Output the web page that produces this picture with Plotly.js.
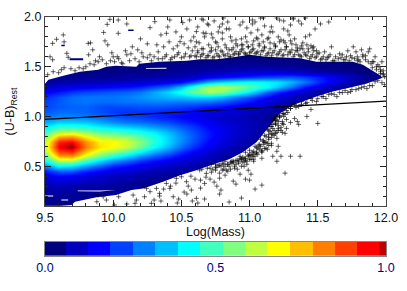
<!DOCTYPE html>
<html><head><meta charset="utf-8">
<script src="https://cdn.plot.ly/plotly-3.0.0.min.js"></script>
<style>html,body{margin:0;padding:0;background:#fff}#c{width:407px;height:291px}</style></head>
<body><div id="c"></div>
<script>
const massGrid=[9.5,9.6,9.7,9.8,9.9,10,10.1,10.2,10.3,10.4,10.5,10.6,10.7,10.8,10.9,11,11.1,11.2,11.3,11.4,11.5,11.6,11.7,11.8,11.9,12];
const colourGrid=[0.1,0.2,0.3,0.4,0.45,0.5,0.55,0.6,0.65,0.7,0.75,0.8,0.85,0.9,0.95,1.0,1.05,1.1,1.15,1.2,1.25,1.3,1.35,1.4,1.45,1.5,1.6];
const density=[
[.01,.01,.01,.01,.01,.01,.01,.01,0,0,0,0,0,0,0,0,0,0,0,0,0,0,0,0,0,0],
[.03,.03,.03,.02,.02,.02,.01,.01,0,0,0,0,0,0,0,0,0,0,0,0,0,0,0,0,0,0],
[.06,.07,.06,.05,.05,.04,.03,.02,.01,.01,0,0,0,0,0,0,0,0,0,0,0,0,0,0,0,0],
[.12,.16,.15,.12,.10,.08,.07,.05,.04,.03,.02,.01,0,0,0,0,0,0,0,0,0,0,0,0,0,0],
[.19,.26,.25,.20,.16,.13,.11,.09,.07,.06,.04,.03,.02,.01,0,0,0,0,0,0,0,0,0,0,0,0],
[.30,.42,.40,.32,.26,.20,.17,.14,.11,.09,.07,.05,.03,.02,.01,0,0,0,0,0,0,0,0,0,0,0],
[.42,.60,.60,.48,.38,.31,.26,.21,.17,.14,.11,.08,.06,.04,.02,.01,0,0,0,0,0,0,0,0,0,0],
[.52,.78,.80,.65,.54,.46,.39,.32,.26,.21,.16,.12,.08,.05,.03,.02,.01,0,0,0,0,0,0,0,0,0],
[.60,.90,.93,.76,.65,.60,.53,.44,.35,.29,.22,.16,.11,.07,.05,.03,.01,0,0,0,0,0,0,0,0,0],
[.63,.96,1.0,.82,.71,.68,.63,.54,.43,.35,.27,.20,.14,.10,.06,.04,.02,0,0,0,0,0,0,0,0,0],
[.62,.92,.95,.80,.70,.69,.64,.57,.46,.38,.30,.23,.16,.12,.08,.05,.02,.01,0,0,0,0,0,0,0,0],
[.55,.78,.80,.70,.62,.60,.58,.52,.45,.38,.31,.24,.18,.13,.09,.06,.03,.01,0,0,0,0,0,0,0,0],
[.47,.60,.62,.57,.52,.50,.47,.44,.40,.35,.29,.23,.18,.14,.10,.07,.04,.02,.01,0,0,0,0,0,0,0],
[.40,.47,.47,.45,.41,.39,.37,.35,.32,.29,.25,.21,.16,.13,.10,.07,.05,.03,.01,0,0,0,0,0,0,0],
[.33,.37,.37,.36,.33,.30,.28,.27,.25,.23,.20,.17,.14,.11,.09,.07,.05,.03,.01,0,0,0,0,0,0,0],
[.28,.30,.30,.29,.27,.25,.23,.22,.20,.18,.16,.14,.11,.09,.08,.06,.04,.02,.01,0,0,0,0,0,0,0],
[.25,.27,.27,.26,.24,.22,.21,.21,.20,.19,.18,.16,.14,.12,.10,.08,.06,.03,.02,.01,0,0,0,0,0,0],
[.23,.25,.26,.26,.24,.23,.23,.24,.24,.23,.22,.20,.18,.16,.13,.11,.08,.05,.03,.02,.01,0,0,0,0,0],
[.22,.25,.27,.28,.27,.27,.28,.28,.29,.29,.28,.28,.27,.25,.21,.17,.13,.09,.05,.03,.02,.01,0,0,0,0],
[.20,.24,.27,.28,.28,.28,.29,.31,.33,.35,.36,.38,.38,.35,.29,.24,.18,.12,.08,.05,.03,.01,.01,0,0,0],
[.15,.18,.21,.23,.24,.25,.26,.28,.33,.38,.45,.54,.60,.57,.49,.40,.30,.21,.14,.09,.05,.03,.02,.01,0,0],
[.09,.11,.13,.14,.15,.16,.17,.19,.23,.27,.35,.49,.60,.62,.58,.52,.45,.37,.28,.19,.12,.07,.03,.02,.01,0],
[.04,.05,.06,.07,.07,.08,.09,.10,.11,.13,.16,.24,.34,.38,.41,.43,.42,.40,.35,.29,.21,.15,.09,.04,.01,0],
[.01,.02,.02,.03,.03,.03,.04,.04,.05,.06,.07,.09,.13,.16,.18,.20,.22,.23,.24,.22,.19,.15,.10,.05,.02,.01],
[0,0,.01,.01,.01,.01,.02,.02,.02,.03,.04,.05,.07,.08,.09,.10,.11,.11,.10,.08,.06,.04,.03,.01,0,0],
[0,0,0,0,0,0,.01,.01,.01,.01,.02,.02,.03,.03,.04,.04,.04,.03,.03,.02,.01,.01,0,0,0,0],
[0,0,0,0,0,0,0,0,0,0,0,0,0,0,0,0,0,0,0,0,0,0,0,0,0,0]
];
const topEdgeX=[9.5,9.525,9.634,9.756,9.89,9.95,10.02,10.17,10.19,10.34,10.54,10.635,10.757,10.879,11.0,11.12,11.37,11.49,11.757,11.83,11.95,11.976,12,12,9.5];
const topEdgeY=[1.33,1.37,1.41,1.45,1.47,1.5,1.51,1.5,1.53,1.55,1.56,1.575,1.575,1.595,1.62,1.6,1.585,1.55,1.55,1.52,1.42,1.39,1.39,2,2];
const bottomEdgeX=[9.61,9.695,9.72,9.878,10.02,10.134,10.22,10.366,10.49,10.61,10.757,10.85,10.95,11.05,11.12,11.17,11.22,11.32,11.37,11.49,11.61,11.73,11.855,11.976,12,12];
const bottomEdgeY=[.1,.11,.143,.187,.21,.26,.277,.344,.41,.46,.53,.57,.64,.74,.86,.94,1.03,1.115,1.14,1.2,1.25,1.29,1.33,1.39,1.39,.1];
const gapX=[10.24,10.39,10.39,10.24,null,9.74,9.9,10.02,9.9,9.74,null,9.5,9.56,9.56,9.5,null,9.62,9.67,9.67,9.62];
const gapY=[1.487,1.49,1.48,1.48,null,.255,.257,.258,.247,.248,null,.205,.205,.195,.195,null,.165,.165,.155,.155];
const islandX=[9.62,9.645,9.645,9.62,null,9.68,9.78,9.78,9.68,null,10.11,10.15,10.15,10.11];
const islandY=[1.72,1.72,1.705,1.705,null,1.585,1.585,1.565,1.565,null,1.875,1.875,1.86,1.86];
const upperLeftX=[9.556,9.585,9.634,9.64,9.537,9.556,9.66,9.67,9.817,9.834,9.85,9.94,9.96,9.93,9.956,9.976,10.037,10.1,10.037,9.52,9.56,9.60,9.62,9.64,9.69,9.72,9.75,9.78,9.80,9.83,9.86,9.89,9.92,9.95,9.98,10.01,10.04,10.07,10.1,10.13,10.16,10.19,10.22,10.25,10.28,9.99,10.03,10.09,10.14,10.18,10.21,10.25,10.2,10.27,10.12,10.06,10.0,9.9,9.87,9.82];
const upperLeftY=[1.735,1.776,1.82,1.75,1.60,1.57,1.635,1.595,1.735,1.74,1.67,1.76,1.72,1.845,1.926,1.976,1.97,1.93,1.836,1.42,1.45,1.44,1.47,1.49,1.48,1.46,1.49,1.48,1.5,1.53,1.52,1.55,1.57,1.53,1.56,1.55,1.58,1.53,1.62,1.63,1.58,1.55,1.6,1.59,1.56,1.64,1.6,1.66,1.7,1.67,1.64,1.73,1.78,1.62,1.56,1.54,1.6,1.6,1.56,1.62];
const upperMidX=[10.27,10.305,10.39,10.415,10.51,10.49,10.61,10.66,10.68,10.3,10.33,10.36,10.39,10.42,10.45,10.48,10.5,10.53,10.56,10.58,10.6,10.62,10.64,10.66,10.68,10.7,10.72,10.74,10.76,10.78,10.8,10.82,10.84,10.86,10.32,10.37,10.41,10.44,10.47,10.52,10.55,10.57,10.6,10.63,10.65,10.67,10.7,10.72,10.75,10.77,10.8,10.82,10.85,10.87,10.35,10.4,10.46,10.5,10.54,10.59,10.62,10.66,10.69,10.73,10.77,10.8,10.83,10.86,10.56,10.61,10.65,10.7,10.74,10.78,10.81,10.84,10.72,10.76,10.8,10.85,10.88,10.9,10.92,10.94];
const upperMidY=[1.893,1.953,1.836,1.97,1.943,1.752,1.853,1.97,1.836,1.6,1.65,1.58,1.62,1.57,1.6,1.64,1.59,1.63,1.6,1.66,1.61,1.64,1.6,1.63,1.59,1.61,1.66,1.6,1.63,1.6,1.65,1.61,1.63,1.6,1.72,1.7,1.75,1.68,1.71,1.73,1.69,1.76,1.7,1.74,1.68,1.8,1.72,1.69,1.75,1.7,1.78,1.72,1.67,1.76,1.82,1.9,1.85,1.8,1.88,1.8,1.9,1.84,1.93,1.79,1.85,1.93,1.88,1.8,1.97,1.75,1.98,1.92,1.96,1.9,1.99,1.95,1.83,1.74,1.84,1.88,1.69,1.77,1.62,1.72];
const upperRightX=[10.88,10.9,10.92,10.94,10.96,10.98,11.0,11.02,11.04,11.06,11.08,11.1,11.12,11.14,11.16,11.18,11.2,11.22,11.24,11.26,11.28,11.3,11.32,11.34,11.36,11.38,11.4,11.42,11.44,11.46,11.48,11.5,11.52,11.54,11.56,10.95,10.99,11.03,11.07,11.11,11.15,11.19,11.23,11.27,11.31,11.35,11.39,11.43,11.47,10.97,11.01,11.05,11.09,11.13,11.17,11.21,11.25,11.29,11.33,11.37,11.41,11.45,11.49,10.93,10.98,11.04,11.1,11.16,11.22,11.28,11.32,11.38,11.44,11.52,11.6,11.68,11.72,11.76,11.8,11.85,11.88,11.9,11.92,11.95,11.97,11.98,11.99,11.96,11.93,11.87,11.83,11.79,11.74,11.7,11.66,11.62,11.58,11.94,11.97,11.99,11.98,11.96,10.95,11.02,11.06,11.11,11.15,11.25,11.3,11.36,11.48,11.58,11.78,11.82,11.87,11.02,11.08,11.2,11.25,11.32,11.41];
const upperRightY=[1.62,1.65,1.63,1.67,1.64,1.62,1.64,1.67,1.63,1.65,1.62,1.66,1.61,1.64,1.61,1.66,1.62,1.65,1.61,1.67,1.62,1.64,1.6,1.66,1.62,1.6,1.64,1.61,1.58,1.62,1.59,1.63,1.57,1.6,1.57,1.72,1.7,1.76,1.73,1.7,1.74,1.71,1.77,1.7,1.73,1.69,1.74,1.68,1.7,1.8,1.84,1.79,1.82,1.78,1.85,1.8,1.76,1.82,1.78,1.68,1.8,1.71,1.66,1.92,1.89,1.95,1.99,1.9,1.97,1.86,1.98,1.93,1.82,1.93,1.7,1.62,1.66,1.7,1.57,1.61,1.68,1.55,1.6,1.5,1.55,1.46,1.4,1.43,1.5,1.55,1.6,1.56,1.61,1.57,1.63,1.56,1.6,1.36,1.34,1.32,1.43,1.47,1.95,1.93,1.87,1.91,1.85,1.88,1.92,1.96,1.88,1.95,1.65,1.67,1.65,1.97,1.99,1.99,1.96,1.99,1.99];
const upperBandX=[10.33,10.38,10.43,10.47,10.52,10.57,10.61,10.65,10.69,10.73,10.77,10.81,10.85,10.89,10.93,10.97,11.01,11.05,11.09,11.13,11.17,11.21,11.25,11.29,11.33,11.37,11.41,11.45,11.49,11.53,11.57,11.61,11.65,11.69,11.73,11.77,11.81,11.85,11.89,10.62,10.66,10.71,10.75,10.79,10.83,10.87,10.91,10.95,10.99,11.03,11.07,11.11,11.15,11.19,11.23,11.27,11.31,11.35,11.39,11.43,11.47,11.51,11.55,11.59,11.63,11.67,11.71,11.75,11.79,11.83,11.9,11.93,11.96,11.98,11.94,11.91,10.9,10.94,10.98,11.02,11.06,11.1,11.14,11.18,11.22,11.26,11.3,11.34,11.38,11.42,11.46];
const upperBandY=[1.58,1.6,1.59,1.62,1.6,1.61,1.6,1.62,1.61,1.59,1.61,1.62,1.6,1.63,1.65,1.63,1.65,1.64,1.66,1.63,1.64,1.63,1.62,1.65,1.62,1.61,1.62,1.6,1.6,1.58,1.59,1.56,1.58,1.57,1.56,1.58,1.55,1.57,1.53,1.66,1.68,1.65,1.67,1.66,1.69,1.67,1.71,1.68,1.7,1.68,1.71,1.69,1.68,1.7,1.67,1.7,1.67,1.66,1.68,1.65,1.66,1.64,1.65,1.62,1.6,1.59,1.6,1.59,1.6,1.62,1.49,1.47,1.45,1.42,1.52,1.55,1.73,1.78,1.75,1.72,1.78,1.75,1.79,1.73,1.75,1.74,1.76,1.72,1.71,1.72,1.69];
const lowerBandX=[11.18,11.2,11.22,11.24,11.26,11.17,11.19,11.21,11.23,11.25,11.15,11.17,11.19,11.21,11.12,11.14,11.16,11.18,11.2,11.1,11.12,11.14,11.16,11.08,11.1,11.12,11.14,11.05,11.07,11.09,11.11,11.03,11.05,11.07,11.09,11.0,11.02,11.04,11.06,10.97,10.99,11.01,11.03,10.94,10.96,10.98,11.0,10.91,10.93,10.95,10.97,10.88,10.9,10.92,10.94,10.85,10.87,10.89,10.82,10.84,10.86,10.79,10.81,10.83,10.76,10.78,10.8,10.73,10.75,10.71,11.3,11.34,11.38,11.42,11.46,11.5,11.54,11.58,11.62,11.66,11.7,11.74,11.78,11.82,11.86,11.9,11.28,11.25,11.22,11.2,11.18,11.16,11.14,11.23,11.26];
const lowerBandY=[.98,.96,.99,.95,1.02,.92,.93,.91,.89,.92,.85,.88,.83,.86,.8,.82,.79,.81,.84,.76,.74,.77,.73,.7,.72,.68,.71,.69,.71,.66,.68,.65,.63,.67,.64,.62,.64,.6,.62,.58,.6,.61,.57,.57,.58,.55,.57,.56,.58,.54,.56,.54,.52,.55,.5,.5,.53,.48,.5,.52,.47,.5,.52,.46,.49,.51,.46,.47,.49,.48,1.08,1.09,1.12,1.14,1.16,1.18,1.2,1.22,1.22,1.24,1.26,1.25,1.27,1.29,1.28,1.31,1.04,1.03,1.01,1.0,.96,.9,.86,.86,.83];
const lowerRightX=[11.92,11.88,11.84,11.8,11.75,11.72,11.68,11.64,11.6,11.56,11.53,11.49,11.45,11.41,11.38,11.36,11.33,11.3,11.27,11.24,11.25,11.22,11.19,11.21,11.24,11.27,11.3,11.33,11.36,11.42,11.45,11.5,11.35,11.27,11.19,11.15,11.18,11.21,11.24,11.16,11.13,11.11,11.14,11.17,11.2,11.08,11.1,11.07,11.13,11.04,11.06,11.09,11.16,11.21,11.03,11.0,11.02,11.05,11.09,10.97,10.99,11.01,11.03,10.95,10.93,10.96,10.98,11.11,11.17,11.23,11.13,11.2,11.3,11.37,10.9,10.92,10.94,10.96,10.99,11.01,10.87,10.89,10.91,10.93,10.97,11.0,11.04,11.09,11.2,11.26];
const lowerRightY=[1.35,1.31,1.3,1.28,1.27,1.24,1.24,1.2,1.23,1.18,1.2,1.15,1.18,1.13,1.15,1.1,1.12,1.08,1.06,1.03,1.0,1.0,0.97,0.95,0.93,0.97,0.94,0.98,0.92,1.0,1.07,0.93,0.95,0.88,0.92,0.9,0.86,0.88,0.84,0.83,0.87,0.81,0.79,0.82,0.78,0.77,0.75,0.72,0.73,0.7,0.68,0.65,0.71,0.7,0.62,0.66,0.6,0.64,0.58,0.64,0.61,0.57,0.55,0.59,0.6,0.55,0.52,0.74,0.6,0.6,0.67,0.65,0.6,0.6,0.56,0.53,0.57,0.5,0.46,0.42,0.55,0.5,0.47,0.42,0.37,0.36,0.27,0.31,0.55,0.43];
const lowerLeftX=[9.89,9.88,9.927,9.95,10.04,10.146,10.17,10.16,10.244,10.27,10.317,10.34,10.39,10.415,10.463,10.5,10.537,10.573,10.61,10.634,10.683,10.67,10.44,10.28,10.23,10.1,10.01,10.65,10.69,10.72,10.75,10.77,10.8,10.82,10.84,10.86,10.88,10.72,10.75,10.78,10.81,10.84,10.64,10.68,10.71,10.74,10.78,10.82,10.64,10.76,10.78,10.88,10.9,10.79,10.57,10.6,10.55,10.52,10.46,10.42,10.37,10.34,10.3,10.48,10.54,10.58,10.47,10.35,10.62,10.85,10.67,10.94];
const lowerLeftY=[.21,.143,.193,.16,.193,.21,.16,.127,.277,.244,.277,.227,.327,.277,.378,.394,.344,.26,.177,.461,.428,.327,.193,.127,.193,.12,.11,.47,.48,.52,.52,.51,.53,.55,.52,.54,.55,.44,.46,.43,.47,.45,.36,.39,.37,.34,.38,.41,.28,.3,.22,.35,.32,.26,.4,.37,.3,.24,.33,.3,.27,.2,.16,.17,.22,.15,.13,.15,.13,.14,.17,.18];
const maxLineX=[9.5,12];
const maxLineY=[.97,1.155];
const barEdges=[0,.0606,.126,.191,.258,.323,.390,.455,.521,.587,.652,.719,.785,.850,.914,.98,1];
const barColours=['#00007f','#0000bf','#0000ff','#0040ff','#0080ff','#00bfff','#00ffff','#40ffbf','#80ff80','#bfff40','#ffff00','#ffbf00','#ff8000','#ff4000','#ff0000','#bf0000'];
const barTicks=[0,.5,1];
const barLabels=['0.0','0.5','1.0'];

const barScale=[];barColours.forEach((c,i)=>{barScale.push([i/16,c]);barScale.push([(i+1)/16,c]);});
const jet=[[0,'#00007f'],[.16,'#0000ff'],[.42,'#00ffff'],[.56,'#80ff80'],[.685,'#ffff00'],[.95,'#ff0000'],[1,'#800000']];
const crossX=[].concat(upperLeftX,upperMidX,upperRightX,upperBandX,lowerBandX,lowerRightX,lowerLeftX);
const crossY=[].concat(upperLeftY,upperMidY,upperRightY,upperBandY,lowerBandY,lowerRightY,lowerLeftY);
const fnt='"Liberation Sans",Arial,sans-serif';
const traces=[
{type:'heatmap',x:massGrid,y:colourGrid,z:density,zmin:0,zmax:1,zsmooth:'best',colorscale:jet,showscale:false,hoverinfo:'skip'},
{type:'scatter',mode:'none',x:topEdgeX,y:topEdgeY,fill:'toself',fillcolor:'#fff',hoverinfo:'skip'},
{type:'scatter',mode:'none',x:bottomEdgeX,y:bottomEdgeY,fill:'toself',fillcolor:'#fff',hoverinfo:'skip'},
{type:'scatter',mode:'none',x:gapX,y:gapY,fill:'toself',fillcolor:'#fff',hoverinfo:'skip'},
{type:'scatter',mode:'none',x:islandX,y:islandY,fill:'toself',fillcolor:'#00007f',hoverinfo:'skip'},
{type:'scatter',mode:'markers',x:crossX,y:crossY,marker:{symbol:'cross-thin',size:3.5,color:'#000',line:{width:.8,color:'rgba(0,0,0,.75)'}},hoverinfo:'skip'},
{type:'scatter',mode:'lines',x:maxLineX,y:maxLineY,line:{color:'#000',width:1.3},hoverinfo:'skip'},
{type:'heatmap',xaxis:'x2',yaxis:'y2',x:barEdges,y:[0,1],z:[barColours.map((c,i)=>i+.5)],zmin:0,zmax:16,colorscale:barScale,showscale:false,hoverinfo:'skip'}
];
const axisBase={showgrid:false,zeroline:false,showline:true,linecolor:'#444',linewidth:1,mirror:'allticks',ticks:'inside',ticklen:6,tickcolor:'#222',tickwidth:1,tickformat:'.1f',tickfont:{size:12.5,color:'#111',family:fnt}};
const layout={width:407,height:291,margin:{l:45,r:20.5,t:17,b:35,pad:0},paper_bgcolor:'#fff',plot_bgcolor:'#fff',showlegend:false,font:{family:fnt},
xaxis:Object.assign({},axisBase,{domain:[0,1],range:[9.5,12],dtick:.5,tick0:9.5,anchor:'y',minor:{ticks:'inside',dtick:.1,ticklen:3,tickcolor:'#222',showgrid:false},title:{text:'Log(Mass)',font:{size:12.5,color:'#111',family:fnt},standoff:1}}),
yaxis:Object.assign({},axisBase,{domain:[.2092,1],range:[.1,2],dtick:.5,tick0:.5,anchor:'x',minor:{ticks:'inside',dtick:.1,ticklen:3,tickcolor:'#222',showgrid:false},title:{text:'(U-B)<sub>Rest</sub>',font:{size:12.5,color:'#111',family:fnt},standoff:6}}),
xaxis2:{domain:[0,1],range:[0,1],anchor:'y2',showgrid:false,zeroline:false,showline:true,mirror:true,linecolor:'#888',linewidth:1,ticks:'',tickmode:'array',tickvals:barTicks,ticktext:barLabels,tickfont:{size:12.5,color:'#00007f',family:fnt}},
yaxis2:{domain:[0,.06],range:[0,1],anchor:'x2',showgrid:false,zeroline:false,showline:true,mirror:true,linecolor:'#888',linewidth:1,ticks:'',showticklabels:false}
};
Plotly.newPlot('c',traces,layout,{displayModeBar:false,staticPlot:true});
</script></body></html>
